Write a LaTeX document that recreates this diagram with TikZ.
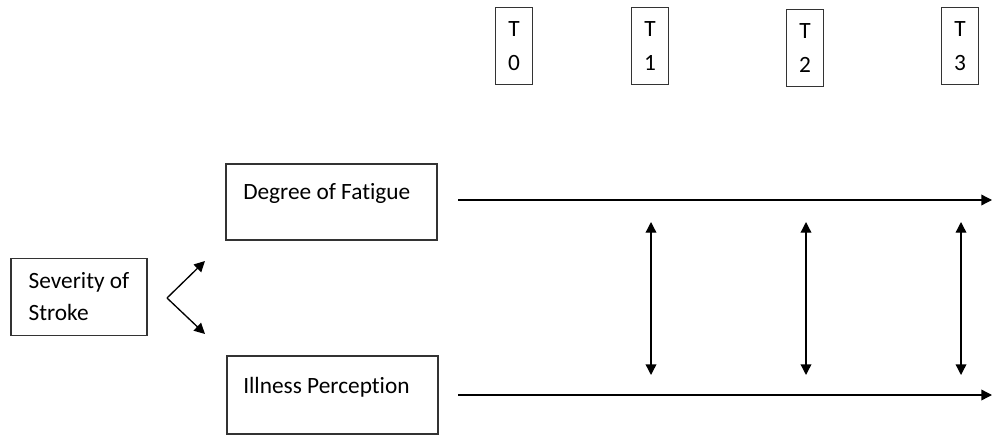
\documentclass[tikz,border=0pt]{standalone}
\usepackage{fontspec}
\setmainfont[Ligatures=NoCommon]{Carlito}
\usetikzlibrary{arrows.meta}
\tikzset{
	box/.style={draw=black!80, line width=0.8pt, inner sep=0pt},
	tbox/.style={box, minimum width=27.75pt, minimum height=57.75pt, align=center},
	txt/.style={anchor=west, inner sep=0pt},
	link/.style={line width=1pt, -{Triangle[length=8pt,width=8pt]}},
	both/.style={line width=1pt, {Triangle[length=8pt,width=8pt]}-{Triangle[length=8pt,width=8pt]}}
}
\begin{document}
\begin{tikzpicture}[x=0.75pt, y=-0.75pt, font=\fontsize{17.5}{25}\selectfont]
	\useasboundingbox (0,0) rectangle (992,435);
	% time points
	\foreach \i/\x/\y in {0/514/46, 1/650/46, 2/805/48, 3/960/46}
		\node[tbox] (t\i) at (\x,\y) {T\\\i};
	% boxes
	\node[box, minimum width=102pt, minimum height=57.75pt, align=left, font=\fontsize{17.5}{24}\selectfont] (severity) at (79,297) {Severity of\\Stroke};
	\node[box, minimum width=158.25pt, minimum height=57pt] (fatigue) at (331.5,202) {};
	\node[txt] (fatiguetxt) at (243,193) {Degree of Fatigue};
	\node[box, minimum width=158.25pt, minimum height=58.5pt] (illness) at (332.5,395) {};
	\node[txt] (illnesstxt) at (243,387) {Illness Perception};
	% fork
	\coordinate (fork) at (167,298);
	\coordinate (up) at (205,261);
	\coordinate (dn) at (205,334);
	\draw[link] (fork) -- (up);
	\draw[link] (fork) -- (dn);
	% time lines
	\coordinate (fs) at (458,200);
	\coordinate (fe) at (992,200);
	\coordinate (is) at (458,395);
	\coordinate (ie) at (992,395);
	\draw[link] (fs) -- (fe);
	\draw[link] (is) -- (ie);
	\foreach \i/\x in {1/651, 2/806, 3/961} {
		\coordinate (a\i) at (\x,222);
		\coordinate (b\i) at (\x,375);
		\draw[both] (a\i) -- (b\i);
	}
\end{tikzpicture}
\end{document}
